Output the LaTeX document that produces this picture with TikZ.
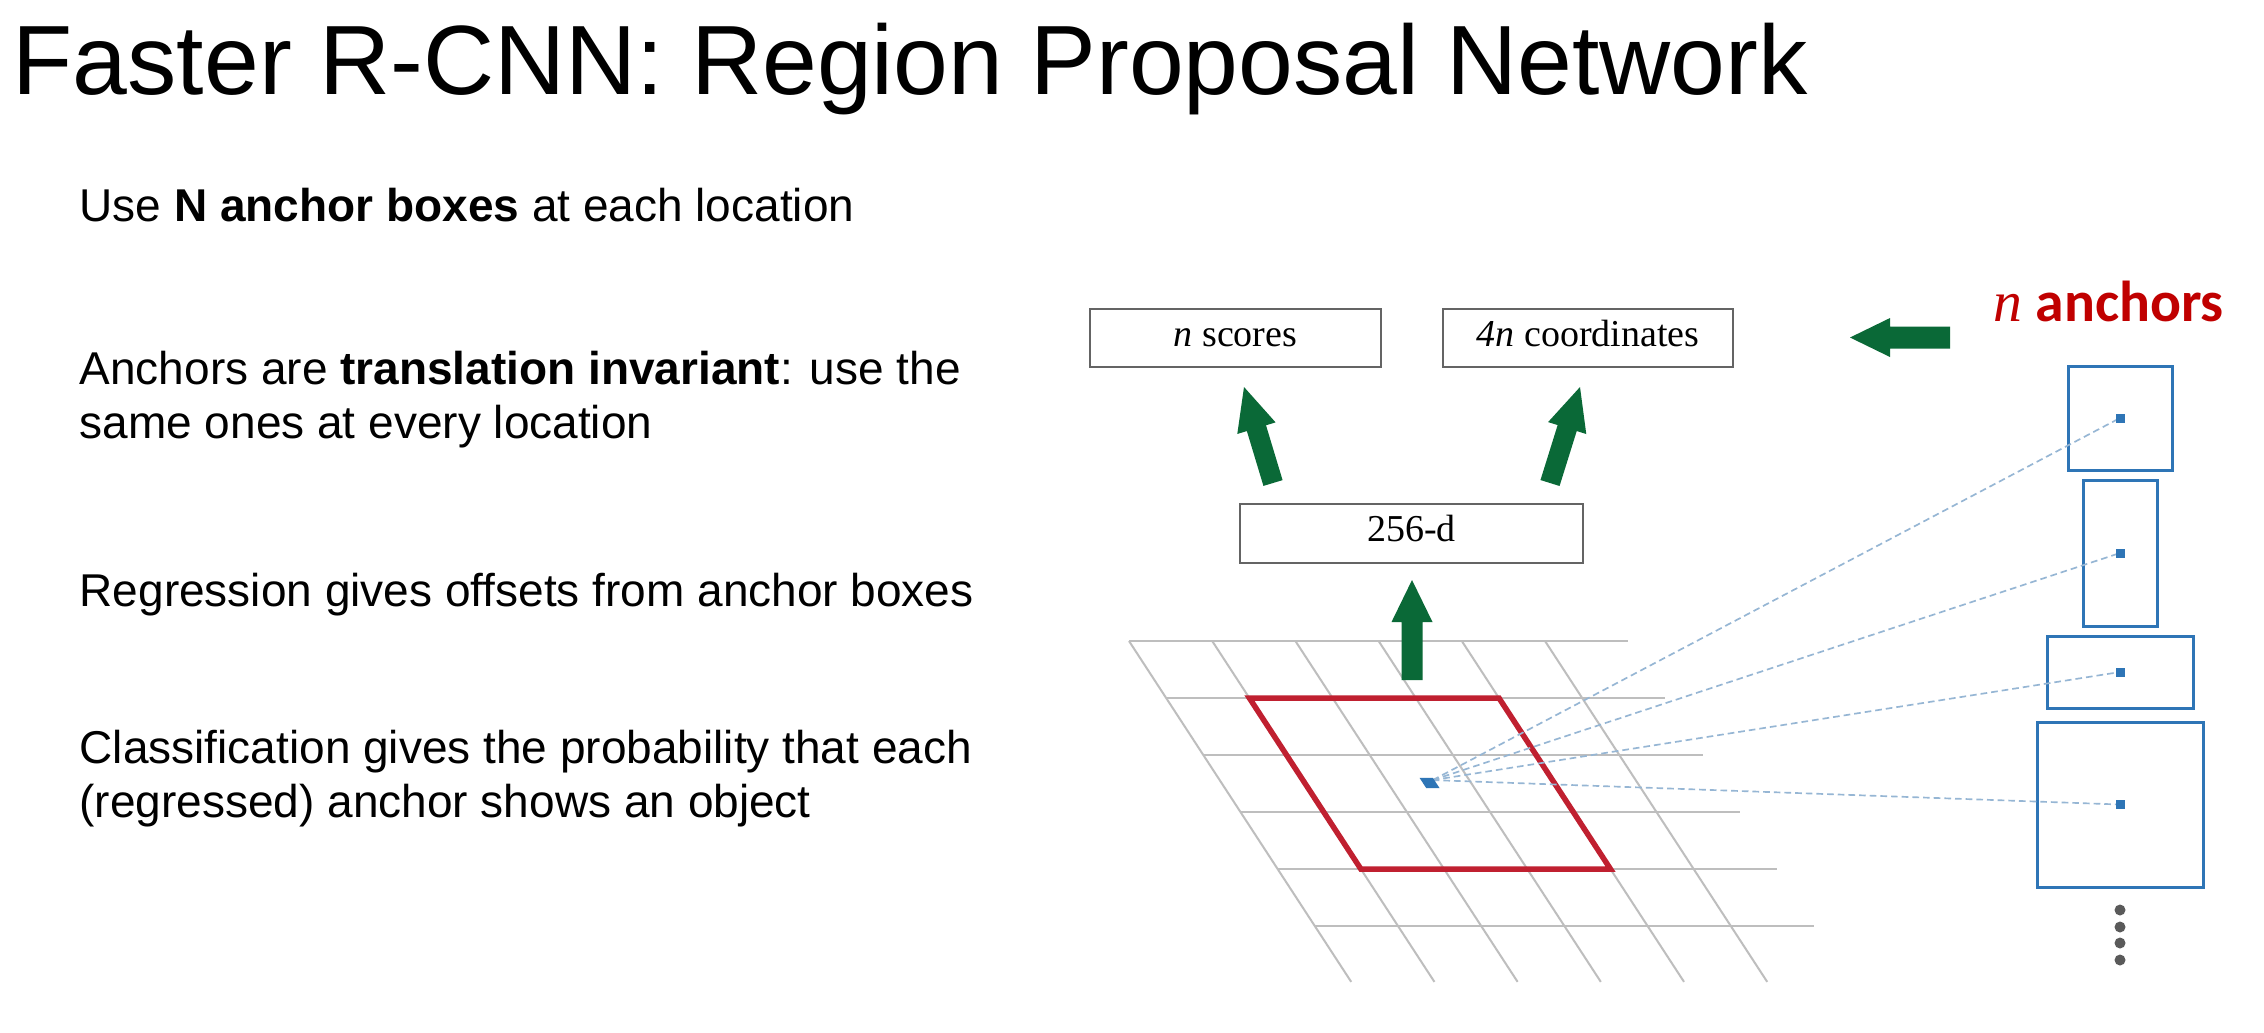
\documentclass[tikz,border=0pt]{standalone}
\usepackage{fontspec}
\setmainfont{Liberation Sans}
\newfontfamily\timesf{Liberation Serif}
\newfontfamily\calib{Carlito}
\usetikzlibrary{calc}
\definecolor{agreen}{RGB}{10,105,55}
\definecolor{gridgray}{RGB}{190,190,190}
\definecolor{redbox}{RGB}{192,32,48}
\definecolor{ablue}{RGB}{46,117,182}
\definecolor{dashblue}{RGB}{150,182,212}
\definecolor{ancred}{RGB}{192,0,0}
\definecolor{dotgray}{RGB}{90,90,90}
\definecolor{boxgray}{RGB}{100,100,100}
\newcommand\gp[2]{({1129+83.2*(#1)+37.16*(#2)},{641+57*(#2)})}
\newcommand\blockarrow[5]{%
  \coordinate (#1-hb) at ($(#2)!#5!(#1)$);
  \fill[agreen] ($(#1)!#3!90:(#2)$) -- ($(#1-hb)!#3!-90:(#1)$) -- ($(#1-hb)!#4!-90:(#1)$) -- (#2) -- ($(#1-hb)!#4!90:(#1)$) -- ($(#1-hb)!#3!90:(#1)$) -- ($(#1)!#3!-90:(#2)$) -- cycle;
}
\begin{document}
\begin{tikzpicture}[x=0.3pt,y=-0.3pt,
  titlestyle/.style={anchor=base west, inner sep=0, font=\fontsize{29.55}{35}\selectfont},
  body/.style={anchor=base west, inner sep=0, font=\fontsize{13.8}{16}\selectfont},
  featbox/.style 2 args={draw=boxgray, line width=0.6pt, fill=white, minimum width=#1*0.3pt, minimum height=#2*0.3pt, inner sep=0, text height=0.7em, text depth=0.2em, font=\timesf\fontsize{11.4}{13}\selectfont},
  anc/.style 2 args={draw=ablue, line width=0.9pt, minimum width=#1*0.3pt, minimum height=#2*0.3pt, inner sep=0},
  ancdot/.style={fill=ablue, minimum size=2.7pt, inner sep=0},
  gridline/.style={draw=gridgray, line width=0.6pt},
  redline/.style={draw=redbox, line width=1.65pt, line join=miter},
  dashline/.style={draw=dashblue, line width=0.5pt, dash pattern=on 2pt off 1.2pt}
]
\fill[white] (0,0) rectangle (2264,1032);
\useasboundingbox (0,0) rectangle (2264,1032);

% title and text
\node[titlestyle] (title) at (12,94) {Faster R-CNN: Region Proposal Network};
\node[body] (l1) at (79,221) {Use \textbf{N anchor boxes} at each location};
\node[body] (l2) at (79,384) {Anchors are \textbf{translation invariant}: use the};
\node[body] (l3) at (79,438) {same ones at every location};
\node[body] (l4) at (79,606) {Regression gives offsets from anchor boxes};
\node[body] (l5) at (79,763) {Classification gives the probability that each};
\node[body] (l6) at (79,817) {(regressed) anchor shows an object};

% grid
\foreach \j in {0,...,5} \draw[gridline] \gp{0}{\j} -- \gp{6}{\j};
\foreach \i in {0,...,5} \draw[gridline] \gp{\i}{0} -- \gp{\i}{5.98};
\draw[redline] \gp{1}{1} -- \gp{4}{1} -- \gp{4}{4} -- \gp{1}{4} -- cycle;

% boxes
\node[featbox={291}{58}] (scores) at (1235.5,338) {\textit{n} scores};
\node[featbox={290}{58}] (coords) at (1588,338) {\textit{4n} coordinates};
\node[featbox={343}{59}] (feat) at (1411.5,533.5) {256-d};

% green arrows
\coordinate (t1) at (1273,483); \coordinate (p1) at (1244,387);
\coordinate (t2) at (1550,483); \coordinate (p2) at (1580,387);
\coordinate (t3) at (1412,680); \coordinate (p3) at (1412,580);
\coordinate (t4) at (1950,337.5); \coordinate (p4) at (1850,337.5);
\blockarrow{t1}{p1}{3pt}{6pt}{12.9pt}
\blockarrow{t2}{p2}{3pt}{6pt}{12.9pt}
\blockarrow{t3}{p3}{3.15pt}{6.15pt}{12.6pt}
\blockarrow{t4}{p4}{3.3pt}{5.85pt}{12pt}

% n anchors label
\node[anchor=base west, inner sep=0, text=ancred, font=\calib\bfseries\fontsize{17.3}{20}\selectfont] (nanch) at (1993,321) {{\timesf\mdseries\itshape n} anchors};

% anchor boxes
\node[anc={104}{104}] (a1) at (2120,418) {};
\node[anc={74}{146}] (a2) at (2120,553) {};
\node[anc={146}{72}] (a3) at (2120,672) {};
\node[anc={166}{165}] (a4) at (2120,804.5) {};

% source marker and dashed lines
\path \gp{2.56}{2.44} coordinate (src);
\foreach \k in {1,...,4} \draw[dashline] (src) -- (a\k.center);
\fill[ablue] \gp{2.42}{2.40} -- \gp{2.58}{2.40} -- \gp{2.58}{2.58} -- \gp{2.42}{2.58} -- cycle;
\foreach \k in {1,...,4} \node[ancdot] (d\k) at (a\k.center) {};

% ellipsis dots
\foreach \yy in {910,927,943,960} \fill[dotgray] (2120,\yy) circle[radius=1.65pt];
\end{tikzpicture}
\end{document}
